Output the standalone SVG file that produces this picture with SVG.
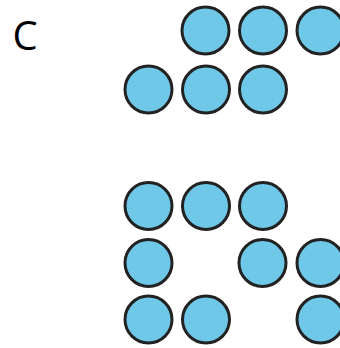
<svg xmlns="http://www.w3.org/2000/svg" width="340" height="348" viewBox="0 0 340 348">
<style>
.dot{fill:#70C8E8;stroke:#222222;stroke-width:3}
.lbl{font-family:"Open Sans","Noto Sans",sans-serif;font-size:40px;fill:#000}
</style>
<rect width="340" height="348" fill="#fff"/>
<g id="label"><text class="lbl" x="12.5" y="49.5">C</text></g>
<g id="top-group">
<circle id="t1" class="dot" cx="205.5" cy="30.5" r="23.5"/>
<circle id="t2" class="dot" cx="263" cy="30.5" r="23.5"/>
<circle id="t3" class="dot" cx="320.5" cy="30.5" r="23.5"/>
<circle id="t4" class="dot" cx="148.5" cy="89.5" r="23.5"/>
<circle id="t5" class="dot" cx="206" cy="89.5" r="23.5"/>
<circle id="t6" class="dot" cx="263" cy="89.5" r="23.5"/>
</g>
<g id="bottom-group">
<circle id="b1" class="dot" cx="148.5" cy="206" r="23.5"/>
<circle id="b2" class="dot" cx="206" cy="206" r="23.5"/>
<circle id="b3" class="dot" cx="263" cy="206" r="23.5"/>
<circle id="b4" class="dot" cx="148.5" cy="263" r="23.5"/>
<circle id="b5" class="dot" cx="262.5" cy="263" r="23.5"/>
<circle id="b6" class="dot" cx="320.5" cy="263" r="23.5"/>
<circle id="b7" class="dot" cx="148.5" cy="319.5" r="23.5"/>
<circle id="b8" class="dot" cx="206" cy="319.5" r="23.5"/>
<circle id="b9" class="dot" cx="320.5" cy="319.5" r="23.5"/>
</g>
<g id="connectors"></g>
</svg>
